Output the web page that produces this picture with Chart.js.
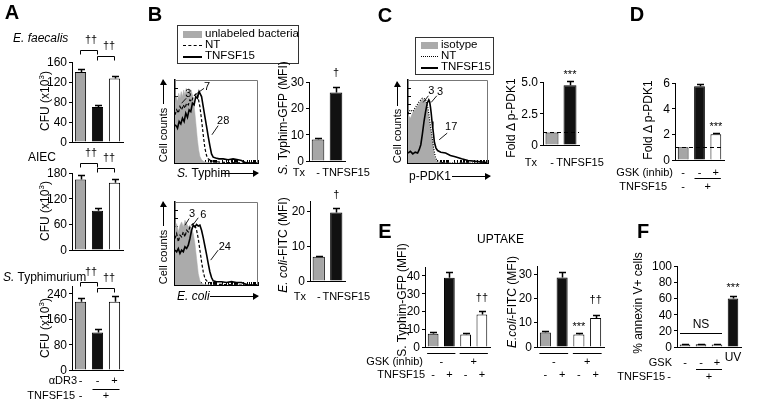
<!DOCTYPE html>
<html>
<head>
<meta charset="utf-8">
<script src="https://cdn.jsdelivr.net/npm/chart.js@4.4.1/dist/chart.umd.min.js"></script>
<style>
body { margin: 0; background: #fff; }
#fig { position: relative; width: 759px; height: 405px; overflow: hidden; background: #fff;
       font-family: "Liberation Sans", Arial, Helvetica, sans-serif; font-size: 11px; color: #000; }
#fig canvas { position: absolute; z-index: 1; }
.t { position: absolute; white-space: nowrap; line-height: 1; z-index: 3; }
.big { font-size: 20px; font-weight: bold; }
.ttl { font-size: 12px; }
.tk { font-size: 12px; z-index: 4; color: #000; }
.lg { position: absolute; border: 1px solid #333; background: #fff; z-index: 2; }
.ha { position: absolute; height: 1px; background: #000; z-index: 3; }
.ha::after { content: ''; position: absolute; right: -1px; top: -3px; border-left: 6px solid #000;
             border-top: 3px solid transparent; border-bottom: 4px solid transparent; }
.va { position: absolute; width: 1px; background: #000; z-index: 3; }
.va::after { content: ''; position: absolute; top: -1px; left: -3px; border-bottom: 6px solid #000;
             border-left: 3px solid transparent; border-right: 4px solid transparent; }
</style>
</head>
<body>
<div id="fig"></div>
<script>
Chart.defaults.font.family = '"Liberation Sans", Arial, Helvetica, sans-serif';
Chart.defaults.font.size = 11;
Chart.defaults.color = '#000';

// ---- data ----
// A: bacteria recovered, CFU (x10^3)
var condA = ['NT', 'TNFSF15', 'TNFSF15 + aDR3'];
var efaecalisCFU = [140, 70, 127];
var efaecalisErr = [6, 5, 6];
var efaecalisTicks = [0, 40, 80, 120, 160];
var aiecCFU = [165, 92, 157];
var aiecErr = [10, 6, 9];
var aiecTicks = [0, 60, 120, 180];
var typhimuriumCFU = [215, 118, 215];
var typhimuriumErr = [12, 10, 17];
var typhimuriumTicks = [0, 80, 160, 240];

// B: MFI of bacteria in macrophages
var condTx = ['-', 'TNFSF15'];
var typhimMFI = [8.2, 26];
var typhimMFIErr = [0.4, 2.2];
var typhimMFITicks = [0, 10, 20, 30];
var ecoliMFI = [7, 19.7];
var ecoliMFIErr = [0.3, 1.3];
var ecoliMFITicks = [0, 10, 20];

// histograms: [log channel (% of range), % of max]
var typhimUnlabeled = [[0,72],[1.5,80],[3,74],[4.5,84],[6,78],[7.5,86],[9,80],[10.5,88],[12,82],[13.5,90],[15,84],[16.5,90],[18,85],[19.5,88],[21,82],[22.5,74],[24,60],[25.5,44],[27,28],[28.5,16],[30,8],[32,4],[35,1.5],[40,0.5],[50,0],[100,0]];
var typhimNT = [[0,58],[2,64],[4,60],[6,68],[8,64],[10,70],[12,66],[14,72],[16,70],[18,76],[20,74],[22,80],[24,82],[26,84],[28,78],[30,68],[32,52],[34,34],[36,18],[38,9],[40,5],[43,3],[47,2],[55,1],[65,0.5],[80,0],[100,0]];
var typhimTNF = [[0,46],[2,44],[3,42],[5,50],[7,47],[9,54],[11,50],[13,60],[15,55],[17,64],[19,62],[21,72],[23,70],[25,80],[27,78],[29,86],[30,86],[32,80],[34,68],[36,56],[38,44],[40,32],[42,21],[44,11],[46,7],[49,6],[53,5],[58,5],[64,4],[70,5],[76,4],[80,3],[84,1],[88,0],[100,0]];
var typhimPeaks = ['3', '7', '28'];

var ecoliUnlabeled = [[0,68],[2,74],[4,64],[6,72],[8,76],[10,70],[12,78],[14,74],[16,70],[18,72],[20,68],[22,62],[24,50],[26,32],[28,14],[30,5],[32,2],[36,0.5],[45,0],[100,0]];
var ecoliNT = [[0,56],[2,62],[4,52],[6,60],[8,58],[10,64],[12,58],[14,66],[16,64],[18,70],[20,72],[22,74],[24,72],[26,66],[28,56],[30,42],[32,28],[34,16],[36,8],[38,5],[42,3],[50,1],[60,0.5],[75,0],[100,0]];
var ecoliTNF = [[0,42],[2,40],[4,44],[6,38],[8,42],[10,40],[12,46],[14,44],[16,48],[18,56],[20,66],[22,72],[24,70],[26,73],[28,71],[30,72],[32,66],[34,57],[36,47],[38,37],[40,26],[42,16],[44,9],[46,5],[50,4],[56,4],[62,3],[68,4],[74,3],[80,3],[84,1.5],[88,0],[100,0]];
var ecoliPeaks = ['3', '6', '24'];

// C: p-PDK1
var pdk1Isotype = [[0,58],[3,54],[6,61],[10,66],[14,72],[18,77],[22,75],[25,62],[27,48],[30,30],[32,16],[33,8],[35,3],[38,1],[42,0],[100,0]];
var pdk1NT = [[0,60],[3,64],[6,62],[10,68],[14,74],[18,78],[22,77],[25,66],[27,52],[30,32],[32,18],[34,8],[36,3],[40,1],[45,0],[100,0]];
var pdk1TNF = [[0,12],[3,14],[6,11],[9,13],[12,12],[14,16],[16,22],[18,35],[20,50],[22,62],[24,72],[26,76],[27,74],[28,68],[29,60],[30,50],[31,42],[32,34],[33,25],[35,18],[37,15],[41,13],[47,12],[53,9],[59,7.5],[67,5],[75,3],[85,2],[96,1],[100,0]];
var pdk1Peaks = ['3', '3', '17'];
var pdk1Fold = [1, 4.75];
var pdk1FoldErr = [0, 0.3];
var pdk1FoldTicks = [0, 2.5, 5];

// D: p-PDK1 with GSK inhibitor
var condD = ['NT', 'TNFSF15', 'TNFSF15 + GSK'];
var gskFold = [1, 5.75, 2.0];
var gskFoldErr = [0, 0.15, 0.07];
var gskFoldTicks = [0, 2, 4, 6];

// E: uptake
var condE = ['NT', 'TNFSF15', 'GSK', 'GSK + TNFSF15'];
var uptakeTyphim = [7.5, 39, 7, 18.3];
var uptakeTyphimErr = [1.2, 3, 1, 1.8];
var uptakeTyphimTicks = [0, 10, 20, 30, 40];
var uptakeEcoli = [6, 28.7, 5.2, 12];
var uptakeEcoliErr = [0.5, 2.2, 0.4, 1.4];
var uptakeEcoliTicks = [0, 10, 20, 30];

// F: annexin V+ cells
var condF = ['NT', 'TNFSF15', 'TNFSF15 + GSK', 'UV'];
var annexinV = [3, 3.5, 3, 60];
var annexinVErr = [0.3, 0.3, 0.3, 3];
var annexinVTicks = [0, 20, 40, 60, 80, 100];

var GRAY = '#a6a6a6', BLACK = '#111111', WHITE = '#ffffff', HIST_GRAY = '#ababab';
var FONT = '11px "Liberation Sans", Arial, sans-serif';

var fig = document.getElementById('fig');
var pendingTicks = [];

function put(html, x, y, cls, mode) {
    var d = document.createElement('div');
    d.className = 't' + (cls ? ' ' + cls : '');
    d.innerHTML = html;
    d.style.left = x + 'px';
    d.style.top = y + 'px';
    var tr = { c: 'translate(-50%,-50%)', l: 'translate(0,-50%)', r: 'translate(-100%,-50%)',
               v: 'translate(-50%,-50%) rotate(-90deg)' };
    d.style.transform = tr[mode || 'c'];
    fig.appendChild(d);
    return d;
}

function hArrow(x1, x2, y) {
    var d = document.createElement('div');
    d.className = 'ha';
    d.style.left = x1 + 'px'; d.style.top = y + 'px'; d.style.width = (x2 - x1) + 'px';
    fig.appendChild(d);
}

function vArrow(x, yBottom, yTop) {
    var d = document.createElement('div');
    d.className = 'va';
    d.style.left = x + 'px'; d.style.top = yTop + 'px'; d.style.height = (yBottom - yTop) + 'px';
    fig.appendChild(d);
}

// error bars, significance marks, brackets and condition rows
var annotPlugin = {
    id: 'annot',
    afterDatasetsDraw: function (chart, args, o) {
        var ctx = chart.ctx, area = chart.chartArea, ys = chart.scales.y;
        var meta = chart.getDatasetMeta(0), vals = chart.data.datasets[0].data;
        var cx = function (i) {
            var a = Math.floor(i), b = Math.ceil(i);
            return meta.data[a].x + (meta.data[b].x - meta.data[a].x) * (i - a);
        };
        ctx.save();
        ctx.strokeStyle = '#000';
        ctx.fillStyle = '#000';
        ctx.font = FONT;
        ctx.textBaseline = 'middle';
        ctx.textAlign = 'center';

        if (o.ref !== undefined) {
            var yr = Math.round(ys.getPixelForValue(o.ref)) + 0.5;
            ctx.lineWidth = 1;
            ctx.setLineDash([4, 3]);
            ctx.beginPath();
            ctx.moveTo(area.left, yr);
            ctx.lineTo(area.right, yr);
            ctx.stroke();
            ctx.setLineDash([]);
        }

        var tops = [];
        vals.forEach(function (v, i) {
            var e = (o.err || [])[i] || 0;
            var x = Math.round(meta.data[i].x) + 0.5;
            var y0 = ys.getPixelForValue(v), y1 = Math.round(ys.getPixelForValue(v + e)) + 0.5;
            tops[i] = y1;
            if (!e) return;
            ctx.lineWidth = 1.5;
            ctx.beginPath();
            ctx.moveTo(x, y0); ctx.lineTo(x, y1);
            ctx.moveTo(x - 3.5, y1); ctx.lineTo(x + 3.5, y1);
            ctx.stroke();
        });

        (o.marks || []).forEach(function (m) {
            ctx.fillText(m.text, cx(m.i) + (m.dx || 0), tops[m.i] + m.dy);
        });

        (o.brackets || []).forEach(function (b) {
            var y = Math.round(area.top + b.y) + 0.5;
            ctx.lineWidth = 1;
            ctx.beginPath();
            ctx.moveTo(cx(b.a), y + 4); ctx.lineTo(cx(b.a), y);
            ctx.lineTo(cx(b.b), y); ctx.lineTo(cx(b.b), y + 4);
            ctx.stroke();
            ctx.fillText(b.text, (cx(b.a) + cx(b.b)) / 2 + (b.tdx || 0), y - 11);
        });

        (o.lines || []).forEach(function (l) {
            var y = Math.round(area.bottom + l.y) + 0.5;
            ctx.lineWidth = 1;
            ctx.beginPath();
            ctx.moveTo(cx(l.a) - l.ext, y);
            ctx.lineTo(cx(l.b) + l.ext, y);
            ctx.stroke();
        });

        (o.rows || []).forEach(function (r) {
            var y = area.bottom + r.y;
            ctx.font = (r.size || 11) + 'px "Liberation Sans", Arial, sans-serif';
            if (r.name) {
                ctx.textAlign = 'right';
                ctx.fillText(r.name, area.left + r.nameDx, y);
                ctx.textAlign = 'center';
            }
            r.cells.forEach(function (c) {
                ctx.fillText(c[1], cx(c[0]) + (c[2] || 0), y);
            });
        });
        ctx.restore();
    }
};

function barChart(o) {
    var PL = o.pl || 50, AX = 30, PT = 40, PR = 40, PB = 42;
    var c = document.createElement('canvas');
    c.width = PL + AX + o.width + PR;
    c.height = PT + (o.bottomY - o.topY) + PB;
    var left = o.axisX - AX - PL, top = o.topY - PT;
    c.style.left = left + 'px';
    c.style.top = top + 'px';
    fig.appendChild(c);
    var tickVals = o.ticks;
    var chart = new Chart(c, {
        type: 'bar',
        data: {
            labels: o.labels,
            datasets: [{
                data: o.values,
                backgroundColor: o.colors,
                borderColor: '#000',
                borderWidth: 1,
                barPercentage: o.bp || 0.66,
                categoryPercentage: 1
            }]
        },
        options: {
            responsive: false,
            animation: false,
            devicePixelRatio: 1,
            layout: { padding: { left: PL, top: PT, right: PR, bottom: PB } },
            plugins: { legend: { display: false }, tooltip: { enabled: false }, annot: o.annot },
            scales: {
                x: {
                    ticks: { display: false },
                    grid: { display: false },
                    border: { display: true, color: '#000', width: 1 },
                    afterFit: function (s) { s.height = 0; }
                },
                y: {
                    min: 0,
                    max: o.max,
                    ticks: { display: false },
                    afterBuildTicks: function (s) {
                        s.ticks = tickVals.map(function (v) { return { value: v }; });
                    },
                    grid: { drawOnChartArea: false, drawTicks: true, tickLength: 3, color: '#000' },
                    border: { display: true, color: '#000', width: 1 },
                    afterFit: function (s) { s.width = AX; }
                }
            }
        },
        plugins: [annotPlugin]
    });
    // y tick labels as text, placed from the scale's own ticks (added last, on top)
    var ys = chart.scales.y, area = chart.chartArea;
    ys.ticks.forEach(function (t) {
        pendingTicks.push([o.fmt ? o.fmt(t.value) : String(t.value),
                           left + area.left - 5, top + ys.getPixelForValue(t.value)]);
    });
    return chart;
}

// frame and peak labels for the flow histograms
var histPlugin = {
    id: 'hist',
    afterDatasetsDraw: function (chart, args, o) {
        var ctx = chart.ctx, a = chart.chartArea, xs = chart.scales.x, ys = chart.scales.y;
        ctx.save();
        ctx.strokeStyle = '#777';
        ctx.lineWidth = 1;
        ctx.beginPath();
        ctx.moveTo(Math.round(a.left), Math.round(a.top) + 0.5);
        ctx.lineTo(Math.round(a.right) - 0.5, Math.round(a.top) + 0.5);
        ctx.lineTo(Math.round(a.right) - 0.5, Math.round(a.bottom));
        ctx.stroke();
        ctx.strokeStyle = '#000';
        ctx.fillStyle = '#000';
        ctx.font = FONT;
        ctx.textAlign = 'center';
        ctx.textBaseline = 'middle';
        (o.callouts || []).forEach(function (c, i) {
            ctx.lineWidth = 0.9;
            ctx.beginPath();
            ctx.moveTo(xs.getPixelForValue(c.from[0]), ys.getPixelForValue(c.from[1]));
            ctx.lineTo(xs.getPixelForValue(c.to[0]), ys.getPixelForValue(c.to[1]));
            ctx.stroke();
            ctx.fillText(o.labels[i], xs.getPixelForValue(c.at[0]), ys.getPixelForValue(c.at[1]));
        });
        ctx.restore();
    }
};

function pts(arr) { return arr.map(function (p) { return { x: p[0], y: p[1] }; }); }

function logTicks() {
    var t = [];
    for (var d = 0; d < 4; d++) {
        for (var k = 1; k < 10; k++) t.push({ value: 25 * (d + Math.log10(k)) });
    }
    t.push({ value: 100 });
    return t;
}

function histChart(o) {
    var P = 3;
    var c = document.createElement('canvas');
    c.width = (o.right - o.left) + 2 * P;
    c.height = (o.bottom - o.top) + 2 * P;
    c.style.left = (o.left - P) + 'px';
    c.style.top = (o.top - P) + 'px';
    fig.appendChild(c);
    new Chart(c, {
        type: 'line',
        data: {
            datasets: [
                { data: pts(o.neg), order: 3, fill: 'origin', backgroundColor: HIST_GRAY, borderColor: HIST_GRAY,
                  borderWidth: 0.5, pointRadius: 0, tension: 0 },
                { data: pts(o.nt), order: 2, fill: false, borderColor: '#000', borderWidth: 1.2,
                  borderDash: o.dash, pointRadius: 0, tension: 0 },
                { data: pts(o.tnf), order: 1, fill: false, borderColor: '#000', borderWidth: 1.6,
                  pointRadius: 0, tension: 0 }
            ]
        },
        options: {
            responsive: false,
            animation: false,
            devicePixelRatio: 1,
            layout: { padding: P },
            plugins: { legend: { display: false }, tooltip: { enabled: false },
                       hist: { callouts: o.callouts, labels: o.labels } },
            scales: {
                x: {
                    type: 'linear', min: 0, max: 100,
                    ticks: { display: false },
                    afterBuildTicks: function (s) { s.ticks = logTicks(); },
                    grid: { drawOnChartArea: false, drawTicks: true, tickLength: -3, color: '#000' },
                    border: { display: true, color: '#000', width: 1 },
                    afterFit: function (s) { s.height = 0; }
                },
                y: {
                    min: 0, max: 100,
                    ticks: { display: false, stepSize: 10 },
                    grid: { drawOnChartArea: false, drawTicks: true, tickLength: -3, color: '#000' },
                    border: { display: true, color: '#000', width: 1.5 },
                    afterFit: function (s) { s.width = 0; }
                }
            }
        },
        plugins: [histPlugin]
    });
}

function legendBox(x, y, w, h, items) {
    var b = document.createElement('div');
    b.className = 'lg';
    b.style.left = x + 'px'; b.style.top = y + 'px';
    b.style.width = w + 'px'; b.style.height = h + 'px';
    items.forEach(function (it) {
        var s = document.createElement('div');
        s.style.position = 'absolute';
        s.style.left = it.sx + 'px';
        s.style.width = it.sw + 'px';
        if (it.kind === 'fill') {
            s.style.top = (it.y - 3) + 'px'; s.style.height = '7px'; s.style.background = HIST_GRAY;
        } else {
            s.style.top = it.y + 'px'; s.style.height = '0';
            s.style.borderTop = it.kind === 'solid' ? '2px solid #000' : (it.kind === 'dash' ? '1.5px dashed #000' : '1px dotted #000');
        }
        b.appendChild(s);
        var t = document.createElement('div');
        t.className = 't';
        t.style.left = it.tx + 'px';
        t.style.top = it.y + 'px';
        t.style.transform = 'translate(0,-50%)';
        t.style.fontSize = '11.5px';
        t.textContent = it.text;
        b.appendChild(t);
    });
    fig.appendChild(b);
}

var colA = [GRAY, BLACK, WHITE];

// ---------------- panel A ----------------
barChart({ axisX: 72, topY: 62, bottomY: 142, width: 51, max: 160, ticks: efaecalisTicks,
    labels: condA, values: efaecalisCFU, colors: colA,
    annot: { err: efaecalisErr,
        brackets: [{ a: 0, b: 1, y: -12, text: '\u2020\u2020', tdx: 2 }, { a: 1, b: 2, y: -6, text: '\u2020\u2020', tdx: 3 }] } });
barChart({ axisX: 72, topY: 173, bottomY: 250, width: 51, max: 180, ticks: aiecTicks,
    labels: condA, values: aiecCFU, colors: colA,
    annot: { err: aiecErr,
        brackets: [{ a: 0, b: 1, y: -10, text: '\u2020\u2020', tdx: 2 }, { a: 1, b: 2, y: -5, text: '\u2020\u2020', tdx: 3 }] } });
barChart({ axisX: 72, topY: 286, bottomY: 370, width: 51, max: 265, ticks: typhimuriumTicks,
    labels: condA, values: typhimuriumCFU, colors: colA,
    annot: { err: typhimuriumErr,
        brackets: [{ a: 0, b: 1, y: -4, text: '\u2020\u2020', tdx: 2 }, { a: 1, b: 2, y: 2, text: '\u2020\u2020', tdx: 3 }],
        lines: [{ a: 1, b: 2, y: 19, ext: 5 }],
        rows: [{ y: 11, name: '\u03b1DR3', nameDx: 5, cells: [[0, '-'], [1, '-'], [2, '+']] },
               { y: 26, name: 'TNFSF15', nameDx: 3, cells: [[0, '-'], [1.5, '+']] }] } });

put('A', 12, 12, 'big');
put('<i>E. faecalis</i>', 13, 38, 'ttl', 'l');
put('AIEC', 28, 157, 'ttl', 'l');
put('<i>S.</i> Typhimurium', 3, 277, 'ttl', 'l');
put('CFU (x10<sup style="font-size:8px">3</sup>)', 44, 101, 'ttl', 'v');
put('CFU (x10<sup style="font-size:8px">3</sup>)', 44, 211, 'ttl', 'v');
put('CFU (x10<sup style="font-size:8px">3</sup>)', 44, 328, 'ttl', 'v');

// ---------------- panel B ----------------
put('B', 155, 14, 'big');
legendBox(177, 25, 120, 37, [
    { kind: 'fill', y: 8, sx: 5, sw: 19, tx: 27, text: 'unlabeled bacteria' },
    { kind: 'dash', y: 19, sx: 5, sw: 19, tx: 27, text: 'NT' },
    { kind: 'solid', y: 30, sx: 5, sw: 19, tx: 27, text: 'TNFSF15' }]);

histChart({ left: 175, top: 80, right: 258, bottom: 163, neg: typhimUnlabeled, nt: typhimNT, tnf: typhimTNF,
    dash: [3, 2], labels: typhimPeaks,
    callouts: [{ at: [16, 83], from: [13.5, 78], to: [8, 72] },
               { at: [38.5, 92], from: [35, 90], to: [24, 82] },
               { at: [58, 51], from: [52, 45], to: [44.5, 34] }] });
histChart({ left: 175, top: 202, right: 258, bottom: 285, neg: ecoliUnlabeled, nt: ecoliNT, tnf: ecoliTNF,
    dash: [3, 2], labels: ecoliPeaks,
    callouts: [{ at: [20.5, 86], from: [17, 80], to: [12, 72] },
               { at: [34, 84], from: [28, 81], to: [22, 73] },
               { at: [60, 46], from: [52, 42], to: [43, 30] }] });

put('Cell counts', 163, 135, '', 'v');
vArrow(163, 104, 80);
put('Cell counts', 163, 257, '', 'v');
vArrow(163, 226, 202);
put('<i>S.</i> Typhim', 177, 173, 'ttl', 'l');
hArrow(221, 258, 173);
put('<i>E. coli</i>', 177, 296, 'ttl', 'l');
hArrow(210, 258, 296);

barChart({ axisX: 309, topY: 82, bottomY: 161, width: 36, max: 30, ticks: typhimMFITicks, bp: 0.7,
    labels: condTx, values: typhimMFI, colors: [GRAY, BLACK],
    annot: { err: typhimMFIErr, marks: [{ i: 1, text: '\u2020', dy: -15 }],
        rows: [{ y: 12, name: 'Tx', nameDx: -4, cells: [[0, '-'], [1, 'TNFSF15', 10]] }] } });
barChart({ axisX: 310, topY: 200.5, bottomY: 281, width: 35, max: 23, ticks: ecoliMFITicks, bp: 0.7,
    labels: condTx, values: ecoliMFI, colors: [GRAY, BLACK],
    annot: { err: ecoliMFIErr, marks: [{ i: 1, text: '\u2020', dy: -14 }],
        rows: [{ y: 16, name: 'Tx', nameDx: -4, cells: [[0, '-'], [1, 'TNFSF15', 10]] }] } });
put('<i>S.</i> Typhim-GFP (MFI)', 283, 118, 'ttl', 'v');
put('<i>E. coli</i>-FITC (MFI)', 283, 245, 'ttl', 'v');

// ---------------- panel C ----------------
put('C', 385, 15, 'big');
legendBox(415, 37, 77, 36, [
    { kind: 'fill', y: 7, sx: 5, sw: 17, tx: 25, text: 'isotype' },
    { kind: 'dot', y: 18, sx: 5, sw: 17, tx: 25, text: 'NT' },
    { kind: 'solid', y: 29, sx: 5, sw: 17, tx: 25, text: 'TNFSF15' }]);
histChart({ left: 408, top: 80, right: 488, bottom: 163, neg: pdk1Isotype, nt: pdk1NT, tnf: pdk1TNF,
    dash: [1, 1.5], labels: pdk1Peaks,
    callouts: [{ at: [29, 87], from: [25.5, 81], to: [19, 73] },
               { at: [40, 86], from: [36, 81], to: [29, 73] },
               { at: [54, 43], from: [49, 36], to: [39, 28] }] });
put('Cell counts', 397, 136, '', 'v');
vArrow(397, 106, 82);
put('p-PDK1', 409, 176, 'ttl', 'l');
hArrow(452, 490, 176);

barChart({ axisX: 543, topY: 82, bottomY: 145, width: 36, max: 5, ticks: pdk1FoldTicks, bp: 0.72,
    fmt: function (v) { return v === 0 ? '0' : v.toFixed(1); },
    labels: condTx, values: pdk1Fold, colors: [GRAY, BLACK],
    annot: { err: pdk1FoldErr, ref: 1, marks: [{ i: 1, text: '***', dy: -7 }],
        rows: [{ y: 18, name: 'Tx', nameDx: -6, cells: [[0, '-'], [1, 'TNFSF15', 10]] }] } });
put('Fold \u0394 p-PDK1', 511, 118, 'ttl', 'v');

// ---------------- panel D ----------------
put('D', 637, 14, 'big');
barChart({ axisX: 675, topY: 83, bottomY: 160, width: 49, max: 6, ticks: gskFoldTicks, bp: 0.66,
    labels: condD, values: gskFold, colors: colA,
    annot: { err: gskFoldErr, ref: 1, marks: [{ i: 2, text: '***', dy: -7 }],
        lines: [{ a: 1, b: 2, y: 18, ext: 5 }],
        rows: [{ y: 13, name: 'GSK (inhib)', nameDx: -2, cells: [[0, '-'], [1, '-'], [2, '+']] },
               { y: 27, name: 'TNFSF15', nameDx: -8, cells: [[0, '-'], [1.5, '+']] }] } });
put('Fold \u0394 p-PDK1', 648, 120, 'ttl', 'v');

// ---------------- panel E ----------------
put('E', 385, 231, 'big');
put('UPTAKE', 477, 239, 'ttl', 'l');
var colE = [GRAY, BLACK, WHITE, WHITE];
barChart({ axisX: 425, topY: 267, bottomY: 347, width: 65, max: 45, ticks: uptakeTyphimTicks, bp: 0.66,
    labels: condE, values: uptakeTyphim, colors: colE,
    annot: { err: uptakeTyphimErr, marks: [{ i: 3, text: '\u2020\u2020', dy: -14 }],
        lines: [{ a: 0, b: 1, y: 6, ext: 6 }, { a: 2, b: 3, y: 6, ext: 6 }],
        rows: [{ y: 15, name: 'GSK (inhib)', nameDx: -2, cells: [[0.5, '-'], [2.5, '+']] },
               { y: 28, name: 'TNFSF15', nameDx: 0, cells: [[0, '-'], [1, '+'], [2, '-'], [3, '+']] }] } });
barChart({ axisX: 537, topY: 265.5, bottomY: 347, width: 67, max: 33.5, ticks: uptakeEcoliTicks, bp: 0.66,
    labels: condE, values: uptakeEcoli, colors: colE,
    annot: { err: uptakeEcoliErr,
        marks: [{ i: 2, text: '***', dy: -7 }, { i: 3, text: '\u2020\u2020', dy: -16 }],
        lines: [{ a: 0, b: 1, y: 6, ext: 6 }, { a: 2, b: 3, y: 6, ext: 6 }],
        rows: [{ y: 15, cells: [[0.5, '-'], [2.5, '+']] },
               { y: 28, cells: [[0, '-'], [1, '+'], [2, '-'], [3, '+']] }] } });
put('S. Typhim-GFP (MFI)', 402, 300, 'ttl', 'v');
put('<i>E.coli</i>-FITC (MFI)', 512, 302, 'ttl', 'v');

// ---------------- panel F ----------------
put('F', 643, 231, 'big');
barChart({ axisX: 677, topY: 266, bottomY: 347, width: 64, max: 100, ticks: annexinVTicks, bp: 0.66,
    labels: condF, values: annexinV, colors: [GRAY, GRAY, WHITE, BLACK],
    annot: { err: annexinVErr, marks: [{ i: 3, text: '***', dy: -9 }],
        lines: [{ a: 0, b: 2, y: -14, ext: 5 }, { a: 1, b: 2, y: 22, ext: 5 }],
        rows: [{ y: -22, size: 12, cells: [[1, 'NS']] },
               { y: 11, size: 12, cells: [[3, 'UV']] },
               { y: 16, name: 'GSK', nameDx: -5, cells: [[0, '-'], [1, '-'], [2, '+']] },
               { y: 30, name: 'TNFSF15', nameDx: -12, cells: [[0, '-', -16], [1.5, '+']] }] } });
put('% annexin V+ cells', 638, 303, 'ttl', 'v');

// y-axis tick labels, on top of everything
pendingTicks.forEach(function (p) { put(p[0], p[1], p[2], 'tk', 'r'); });
</script>
</body>
</html>
